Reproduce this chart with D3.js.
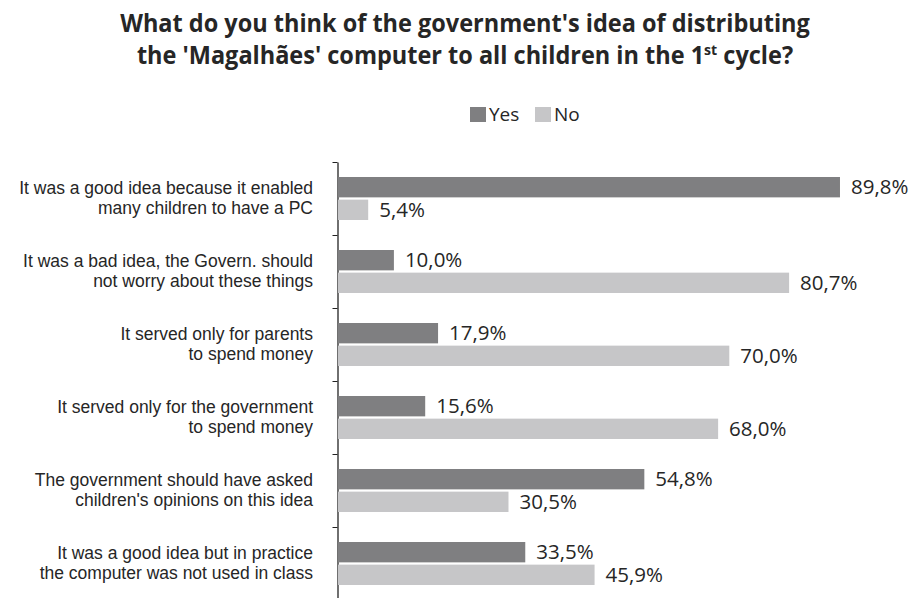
<!DOCTYPE html>
<html>
<head>
<meta charset="utf-8">
<script src="https://cdn.jsdelivr.net/npm/d3@7"></script>
<style>
  body { margin: 0; background: #fff; }
  text { fill: #262626; }
</style>
</head>
<body>
<div id="chart"></div>
<script>
// data
var categories = [
  ["It was a good idea because it enabled", "many children to have a PC"],
  ["It was a bad idea, the Govern. should", "not worry about these things"],
  ["It served only for parents", "to spend money"],
  ["It served only for the government", "to spend money"],
  ["The government should have asked", "children's opinions on this idea"],
  ["It was a good idea but in practice", "the computer was not used in class"]
];
var seriesNames = ["Yes", "No"];
var yesValues = [89.8, 10.0, 17.9, 15.6, 54.8, 33.5];
var noValues = [5.4, 80.7, 70.0, 68.0, 30.5, 45.9];

var colors = {Yes: "#7f7f81", No: "#c6c6c8"};

var W = 912, H = 598;
var svg = d3.select("#chart").append("svg")
      .attr("width", W)
      .attr("height", H);

// title (squeezed a little, the original face is a condensed one)
var title = svg.append("g")
      .attr("transform", "translate(465,0) scale(0.94,1)")
      .append("text")
      .attr("text-anchor", "middle")
      .style("font-family", "'Open Sans', sans-serif")
      .style("font-weight", "bold")
      .style("font-size", "25px");
title.append("tspan").attr("x", 0).attr("y", 32)
      .text("What do you think of the government's idea of distributing");
var t2 = title.append("tspan").attr("x", 0).attr("y", 64);
t2.append("tspan").text("the 'Magalhães' computer to all children in the 1");
t2.append("tspan").attr("dy", -9).style("font-size", "15px").text("st");
t2.append("tspan").attr("dy", 9).text(" cycle?");

// legend
var legend = svg.append("g")
      .style("font-family", "'Open Sans', sans-serif")
      .style("font-size", "19px");
var legendX = d3.scaleOrdinal().domain(seriesNames).range([470, 535]);
seriesNames.forEach(function (s) {
      legend.append("rect")
            .attr("x", legendX(s)).attr("y", 107)
            .attr("width", 16).attr("height", 15)
            .attr("fill", colors[s]);
      legend.append("text")
            .attr("x", legendX(s) + 19).attr("y", 121)
            .text(s);
});

// scales
var x = d3.scaleLinear().domain([0, 100]).range([338, 897]);
var y = d3.scaleBand().domain(d3.range(categories.length)).range([162, 600]);
var ySub = d3.scaleBand().domain(seriesNames).range([15, 58]).paddingInner(0.1);

// axis with ticks between the groups
var yLine = d3.scaleLinear().domain([0, categories.length]).range([162, 600]);
var axis = svg.append("g")
      .attr("transform", "translate(" + 337.5 + ",0)")
      .call(d3.axisLeft(yLine).ticks(categories.length).tickFormat("").tickSize(5).tickSizeOuter(0));
axis.select(".domain").attr("stroke", "#222").attr("stroke-width", 1.3);
axis.selectAll(".tick line").attr("stroke", "#222");

var rows = categories.map(function (c, i) {
      return {i: i, lines: c, values: [
            {name: "Yes", value: yesValues[i]},
            {name: "No", value: noValues[i]}
      ]};
});

var group = svg.selectAll(".grp")
      .data(rows)
      .enter().append("g")
      .attr("class", "grp")
      .attr("transform", function (d) { return "translate(0," + y(d.i) + ")"; });

// category labels, one text per line
group.selectAll(".cat")
      .data(function (d) { return d.lines; })
      .enter().append("text")
      .attr("class", "cat")
      .attr("text-anchor", "end")
      .style("font-family", "'Liberation Sans', Arial, sans-serif")
      .style("font-size", "17.5px")
      .attr("x", 313)
      .attr("y", function (d, k) { return y.bandwidth() / 2 - 5 + k * 20; })
      .text(function (d) { return d; });

// bars
group.selectAll("rect")
      .data(function (d) { return d.values; })
      .enter().append("rect")
      .attr("x", x(0))
      .attr("y", function (d) { return ySub(d.name); })
      .attr("width", function (d) { return x(d.value) - x(0); })
      .attr("height", ySub.bandwidth())
      .attr("fill", function (d) { return colors[d.name]; });

// value labels
group.selectAll(".val")
      .data(function (d) { return d.values; })
      .enter().append("text")
      .attr("class", "val")
      .attr("x", function (d) { return x(d.value) + 11; })
      .attr("y", function (d) { return ySub(d.name) + ySub.bandwidth() / 2; })
      .attr("dy", "0.35em")
      .style("font-family", "'Open Sans', sans-serif")
      .style("font-size", "20.5px")
      .text(function (d) { return d.value.toFixed(1).replace(".", ",") + "%"; });
</script>
</body>
</html>
